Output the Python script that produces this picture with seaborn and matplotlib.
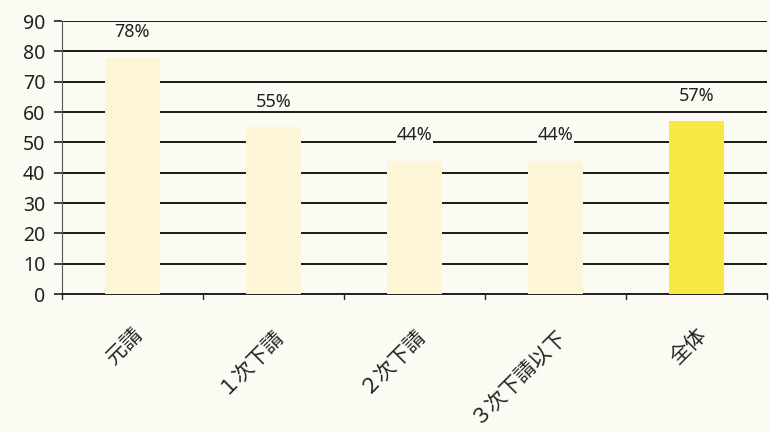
import matplotlib
matplotlib.use("Agg")
import matplotlib.pyplot as plt
import seaborn as sns
import pandas as pd

categories = ["元請", "１次下請", "２次下請", "３次下請以下", "全体"]
values = [78, 55, 44, 44, 57]
bar_colors = ["#fcf6d6", "#fcf6d6", "#fcf6d6", "#fcf6d6", "#f8e843"]
y_ticks = [0, 10, 20, 30, 40, 50, 60, 70, 80, 90]

sns.set_theme(style="white")
plt.rcParams["font.family"] = ["Noto Sans", "Noto Sans CJK JP", "DejaVu Sans"]

df = pd.DataFrame({"cat": categories, "val": values})
bg = "#fbfaf3"

fig = plt.figure(figsize=(7.69, 4.32), dpi=100, facecolor=bg)
ax = fig.add_axes([0.0806, 0.3194, 0.9164, 0.6316])
ax.set_facecolor(bg)

sns.barplot(data=df, x="cat", y="val", hue="cat", palette=bar_colors,
            width=0.39, legend=False, ax=ax, zorder=3, saturation=1,
            linewidth=0)

ax.set_ylim(0, 90)
ax.set_yticks(y_ticks)
ax.set_xlim(-0.5, len(categories) - 0.5)
ax.yaxis.grid(True, color="#1a1a1a", linewidth=1.4, zorder=1)
ax.set_axisbelow(True)

for sp in ["top", "right"]:
    ax.spines[sp].set_visible(False)
ax.spines["left"].set_color("#555555")
ax.spines["left"].set_linewidth(0.8)
ax.spines["bottom"].set_color("#222222")
ax.spines["bottom"].set_linewidth(1.4)

ax.tick_params(axis="y", which="major", left=True, length=6, width=1.2,
               color="#222222", labelsize=14, labelcolor="#222222", pad=6)
ax.set_xticks(range(len(categories)))
ax.set_xticklabels(categories, rotation=45, ha="right", rotation_mode="anchor",
                   fontsize=15, color="#222222")
ax.tick_params(axis="x", bottom=False, pad=16)
# category boundary ticks on the x axis
for b in [i - 0.5 for i in range(len(categories) + 1)]:
    ax.plot([b, b], [0, -1.6], color="#222222", lw=1.0, clip_on=False, zorder=4)

ax.set_xlabel("")
ax.set_ylabel("")

for i, v in enumerate(values):
    ax.text(i, v + 5.5, f"{v}%", ha="center", va="bottom", fontsize=13,
            color="#222222", zorder=5,
            bbox=dict(facecolor=bg, edgecolor="none", pad=0.2))

fig.savefig("out.png", dpi=100, facecolor=bg)
